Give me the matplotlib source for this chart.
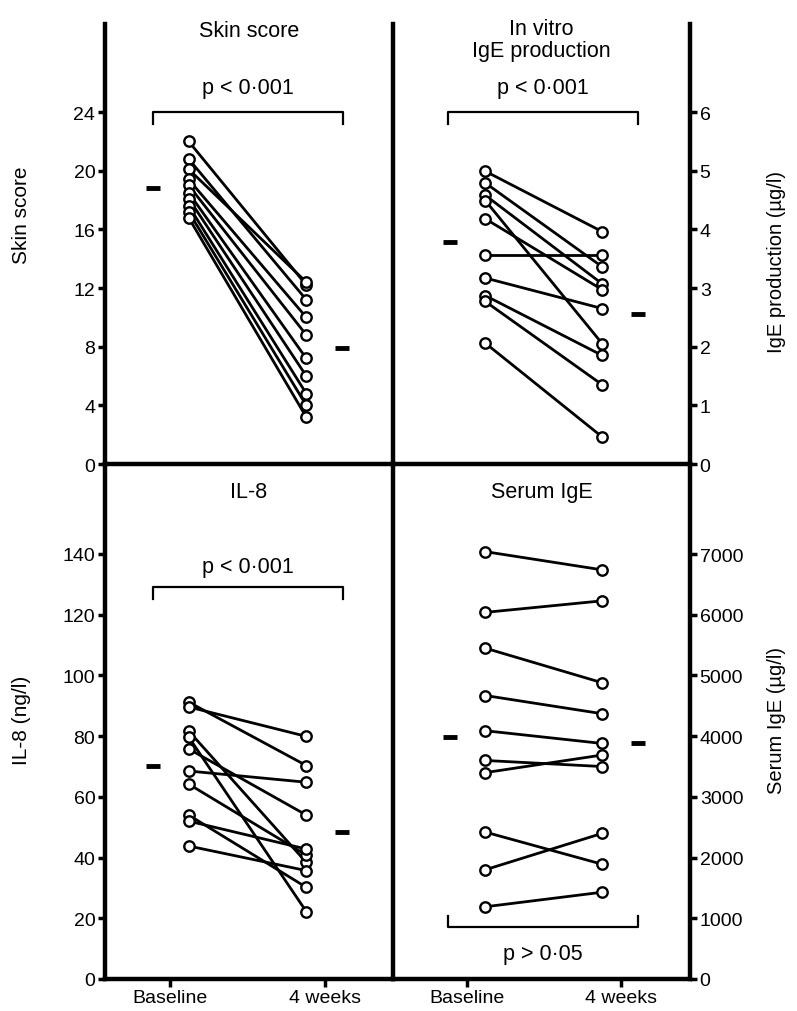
import matplotlib.pyplot as plt

plt.rcParams["font.family"] = ["Liberation Sans", "DejaVu Sans"]

# values (baseline, 4 weeks) per patient
skin_base = [22.0, 20.8, 20.1, 19.4, 19.0, 18.5, 18.1, 17.6, 17.2, 16.8]
skin_4wk = [12.2, 11.2, 12.4, 10.0, 8.8, 7.2, 6.0, 4.8, 4.0, 3.2]
skin_mean = [18.8, 7.9]

ige_prod_base = [4.99, 4.79, 4.58, 4.49, 4.18, 3.57, 3.17, 2.87, 2.77, 2.06]
ige_prod_4wk = [3.96, 3.36, 3.07, 2.05, 2.97, 3.57, 2.65, 1.85, 1.35, 0.46]
ige_prod_mean = [3.78, 2.55]

il8_base = [91.2, 89.6, 81.7, 79.7, 75.8, 68.5, 64.2, 54.0, 52.0, 43.8]
il8_4wk = [70.3, 79.9, 38.4, 22.2, 54.0, 64.8, 40.8, 30.2, 42.8, 35.7]
il8_mean = [70.2, 48.4]

serum_base = [7040, 6040, 5450, 4670, 4090, 3600, 3400, 2420, 1800, 1190]
serum_4wk = [6740, 6230, 4880, 4370, 3880, 3500, 3690, 1890, 2400, 1430]
serum_mean = [3990, 3880]

x_labels = ["Baseline", "4 weeks"]

fig = plt.figure(figsize=(7.97, 10.12), dpi=100)

W, H = 797, 1012


def box(x0, y0, x1, y1):
    return [x0 / W, 1 - y1 / H, (x1 - x0) / W, (y1 - y0) / H]


ax_skin = fig.add_axes(box(105, 25, 393, 465))
ax_prod = fig.add_axes(box(393, 25, 690, 465))
ax_il8 = fig.add_axes(box(105, 465, 393, 980))
ax_ser = fig.add_axes(box(393, 465, 690, 980))

LW = 3.2
PT_X = [1.12, 1.88]
MEAN_X = [0.89, 2.11]


def panel(ax, base, wk, mean, ylim, yticks, side, bottom):
    ax.patch.set_visible(False)
    for b, w in zip(base, wk):
        ax.plot(PT_X, [b, w], color="black", lw=2.0, marker="o", ms=7.5,
                mfc="white", mec="black", mew=1.7, zorder=3)
    ax.plot(MEAN_X, mean, ls="none", marker="_", ms=10, mew=3.5, color="black")
    ax.set_ylim(*ylim)
    ax.set_yticks(yticks)
    ax.spines["top"].set_visible(False)
    for s in ["left", "right", "bottom"]:
        ax.spines[s].set_linewidth(LW)
    if side == "left":
        ax.yaxis.tick_left()
    else:
        ax.spines["left"].set_visible(False)
        ax.yaxis.tick_right()
    ax.tick_params(axis="y", direction="out", length=5, width=2.5,
                   labelsize=14, pad=2)
    if bottom:
        ax.set_xticks([1, 2])
        ax.set_xticklabels(x_labels)
        ax.tick_params(axis="x", direction="out", length=6, width=2.5,
                       labelsize=14, pad=1)
    else:
        ax.set_xticks([])


panel(ax_skin, skin_base, skin_4wk, skin_mean, (0, 30), range(0, 25, 4), "left", False)
ax_skin.set_xlim(0.58, 2.44)
panel(ax_prod, ige_prod_base, ige_prod_4wk, ige_prod_mean, (0, 7.5), range(0, 7), "right", False)
ax_prod.set_xlim(0.52, 2.45)
panel(ax_il8, il8_base, il8_4wk, il8_mean, (0, 169.6), range(0, 141, 20), "left", True)
ax_il8.set_xlim(0.58, 2.44)
panel(ax_ser, serum_base, serum_4wk, serum_mean, (0, 8484), range(0, 7001, 1000), "right", True)
ax_ser.set_xlim(0.52, 2.45)


def bracket(ax, x0, x1, y, yend, label, ytext):
    ax.plot([x0, x0, x1, x1], [yend, y, y, yend], color="black", lw=1.6)
    ax.text((x0 + x1) / 2, ytext, label, ha="center", va="center", fontsize=15.5)


bracket(ax_skin, 0.89, 2.12, 24.0, 23.2, "p < 0\u00b7001", 25.7)
bracket(ax_prod, 0.88, 2.11, 6.0, 5.8, "p < 0\u00b7001", 6.42)
bracket(ax_il8, 0.89, 2.12, 129, 125, "p < 0\u00b7001", 135.7)
bracket(ax_ser, 0.88, 2.11, 857, 1040, "p > 0\u00b705", 412)

ax_skin.text(0.5, 0.985, "Skin score", transform=ax_skin.transAxes,
             ha="center", va="center", fontsize=15.5)
ax_prod.text(0.5, 0.965, "In vitro\nIgE production", transform=ax_prod.transAxes,
             ha="center", va="center", fontsize=15.5, linespacing=1.05)
ax_il8.text(0.5, 0.946, "IL-8", transform=ax_il8.transAxes,
            ha="center", va="center", fontsize=15.5)
ax_ser.text(0.5, 0.946, "Serum IgE", transform=ax_ser.transAxes,
            ha="center", va="center", fontsize=15.5)

fig.text(22 / W, 1 - 215 / H, "Skin score", rotation=90, ha="center", va="center", fontsize=15)
fig.text(22 / W, 1 - 720 / H, "IL-8 (ng/l)", rotation=90, ha="center", va="center", fontsize=15)
fig.text(777 / W, 1 - 262 / H, "IgE production (\u00b5g/l)", rotation=90, ha="center", va="center", fontsize=14.5)
fig.text(777 / W, 1 - 720 / H, "Serum IgE (\u00b5g/l)", rotation=90, ha="center", va="center", fontsize=14.5)

fig.savefig("out.png", dpi=100)
